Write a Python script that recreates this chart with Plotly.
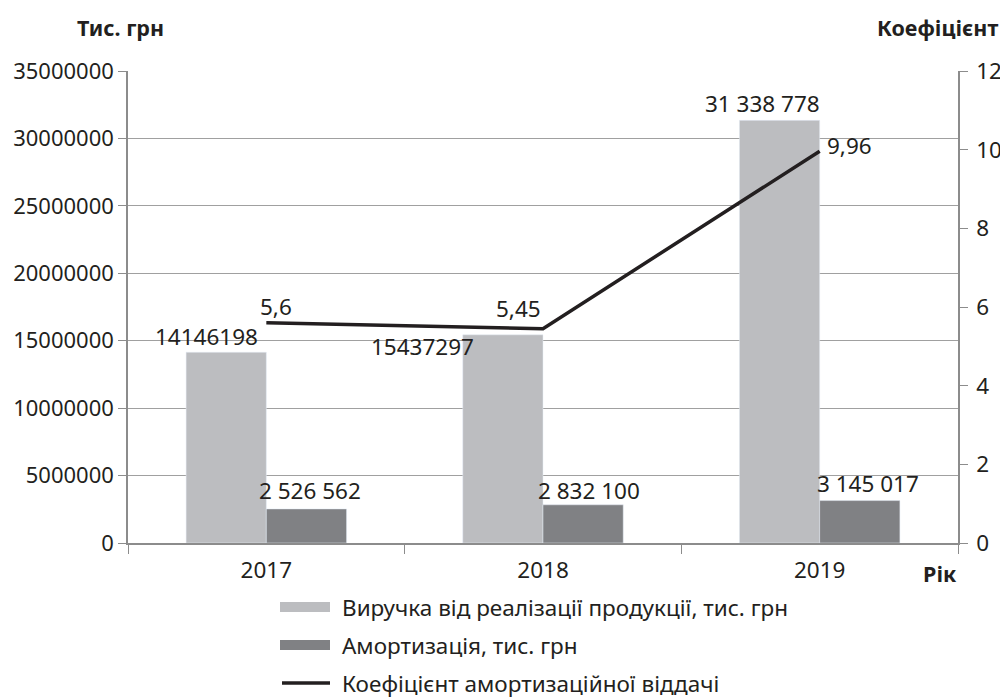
import plotly.graph_objects as go

years = ["2017", "2018", "2019"]
revenue = [14146198, 15437297, 31338778]
amort = [2526562, 2832100, 3145017]
coef = [5.6, 5.45, 9.96]

rev_labels = ["14146198", "15437297", "31 338 778"]
amort_labels = ["2 526 562", "2 832 100", "3 145 017"]
coef_labels = ["5,6", "5,45", "9,96"]

name_rev = "Виручка від реалізації продукції, тис. грн"
name_am = "Амортизація, тис. грн"
name_coef = "Коефіцієнт амортизаційної віддачі"

FONT = "Noto Sans"
TXT = "#231f20"
AX = "#8c8c8c"
C_REV = "#bcbdc0"
C_AM = "#808184"

# plot area in page pixels (page body has an 8px margin)
PX0, PX1, PY0, PY1 = 128, 958, 71, 543
PW, PH = PX1 - PX0, PY1 - PY0


def px(xp):
    return (xp - PX0) / PW


def py(yp):
    return (PY1 - yp) / PH


fig = go.Figure()
fig.add_trace(go.Bar(x=years, y=revenue, name=name_rev, marker_color=C_REV))
fig.add_trace(go.Bar(x=years, y=amort, name=name_am, marker_color=C_AM))
fig.add_trace(go.Scatter(x=years, y=coef, name=name_coef, yaxis="y2", mode="lines",
                         line=dict(color=TXT, width=3.5)))

bw = 0.289  # bar width in category units
ann = []
rev_off = [(-0.217, 16), (-0.434, -12), (-0.206, 17)]
for i, (lab, v) in enumerate(zip(rev_labels, revenue)):
    dx, dy = rev_off[i]
    ann.append(dict(x=i + dx, y=v, xref="x", yref="y", text=lab, showarrow=False,
                    yshift=dy, xanchor="center", yanchor="middle"))
am_off = [(4, 18), (6, 14), (8, 17)]
for i, (lab, v) in enumerate(zip(amort_labels, amort)):
    dx, dy = am_off[i]
    ann.append(dict(x=i + bw / 2, y=v, xref="x", yref="y", text=lab, showarrow=False,
                    xshift=dx, yshift=dy, xanchor="center", yanchor="middle"))
co_off = [(10, 16), (-25, 20), (30, 6)]
for i, (lab, v) in enumerate(zip(coef_labels, coef)):
    dx, dy = co_off[i]
    ann.append(dict(x=i, y=v, xref="x", yref="y2", text=lab, showarrow=False,
                    xshift=dx, yshift=dy, xanchor="center", yanchor="middle"))

tfont = dict(size=21.5, color=TXT, family=FONT)
ann.append(dict(x=px(120), y=py(27), xref="paper", yref="paper", text="<b>Тис. грн</b>",
                showarrow=False, xanchor="center", yanchor="middle", font=tfont))
ann.append(dict(x=px(1000), y=py(27), xref="paper", yref="paper",
                text="<b>Коефіцієнт</b>", showarrow=False, xanchor="right",
                yanchor="middle", font=tfont))
ann.append(dict(x=px(940), y=py(573), xref="paper", yref="paper",
                text="<b>Рік</b>", showarrow=False, xanchor="center",
                yanchor="middle", font=tfont))

# custom legend (wide swatches as in the reference)
shapes = []
leg_names = [name_rev, name_am, name_coef]
leg_y = [607, 645, 683]
for k, (nm, yc) in enumerate(zip(leg_names, leg_y)):
    if k < 2:
        shapes.append(dict(type="rect", xref="paper", yref="paper",
                           x0=px(280), x1=px(330), y0=py(yc + 5), y1=py(yc - 5),
                           fillcolor=[C_REV, C_AM][k], line=dict(width=0)))
    else:
        shapes.append(dict(type="line", xref="paper", yref="paper",
                           x0=px(282), x1=px(330), y0=py(yc), y1=py(yc),
                           line=dict(color=TXT, width=3.5)))
    ann.append(dict(x=px(340), y=py(yc), xref="paper", yref="paper", text=nm,
                    showarrow=False, xanchor="left", yanchor="middle",
                    font=dict(size=22.5, color=TXT, family=FONT)))

fig.update_layout(
    width=1000, height=691,
    margin=dict(l=PX0 - 8, r=1008 - PX1, t=PY0 - 8, b=699 - PY1, autoexpand=False),
    paper_bgcolor="white", plot_bgcolor="white",
    font=dict(family=FONT, size=22.5, color=TXT),
    barmode="group", bargap=0.42, bargroupgap=0,
    annotations=ann, shapes=shapes,
    showlegend=False,
    xaxis=dict(type="category", showline=True, linecolor=AX, linewidth=1.5,
               ticks="outside", tickson="boundaries", ticklen=9, tickcolor=AX,
               ticklabelstandoff=6, showgrid=False),
    yaxis=dict(range=[0, 35000000], dtick=5000000, tickformat="d",
               showline=True, linecolor=AX, linewidth=1.5, ticks="outside",
               ticklen=8, tickcolor=AX, gridcolor="#a0a0a0", gridwidth=1,
               ticklabelstandoff=0, tickfont=dict(size=22), zeroline=False),
    yaxis2=dict(range=[0, 12], dtick=2, overlaying="y", side="right",
                showline=True, linecolor=AX, linewidth=1.5, ticks="outside",
                ticklen=8, tickcolor=AX, showgrid=False, zeroline=False,
                ticklabelstandoff=4, tickfont=dict(size=22.5)),
)

fig.write_html("out.html")
